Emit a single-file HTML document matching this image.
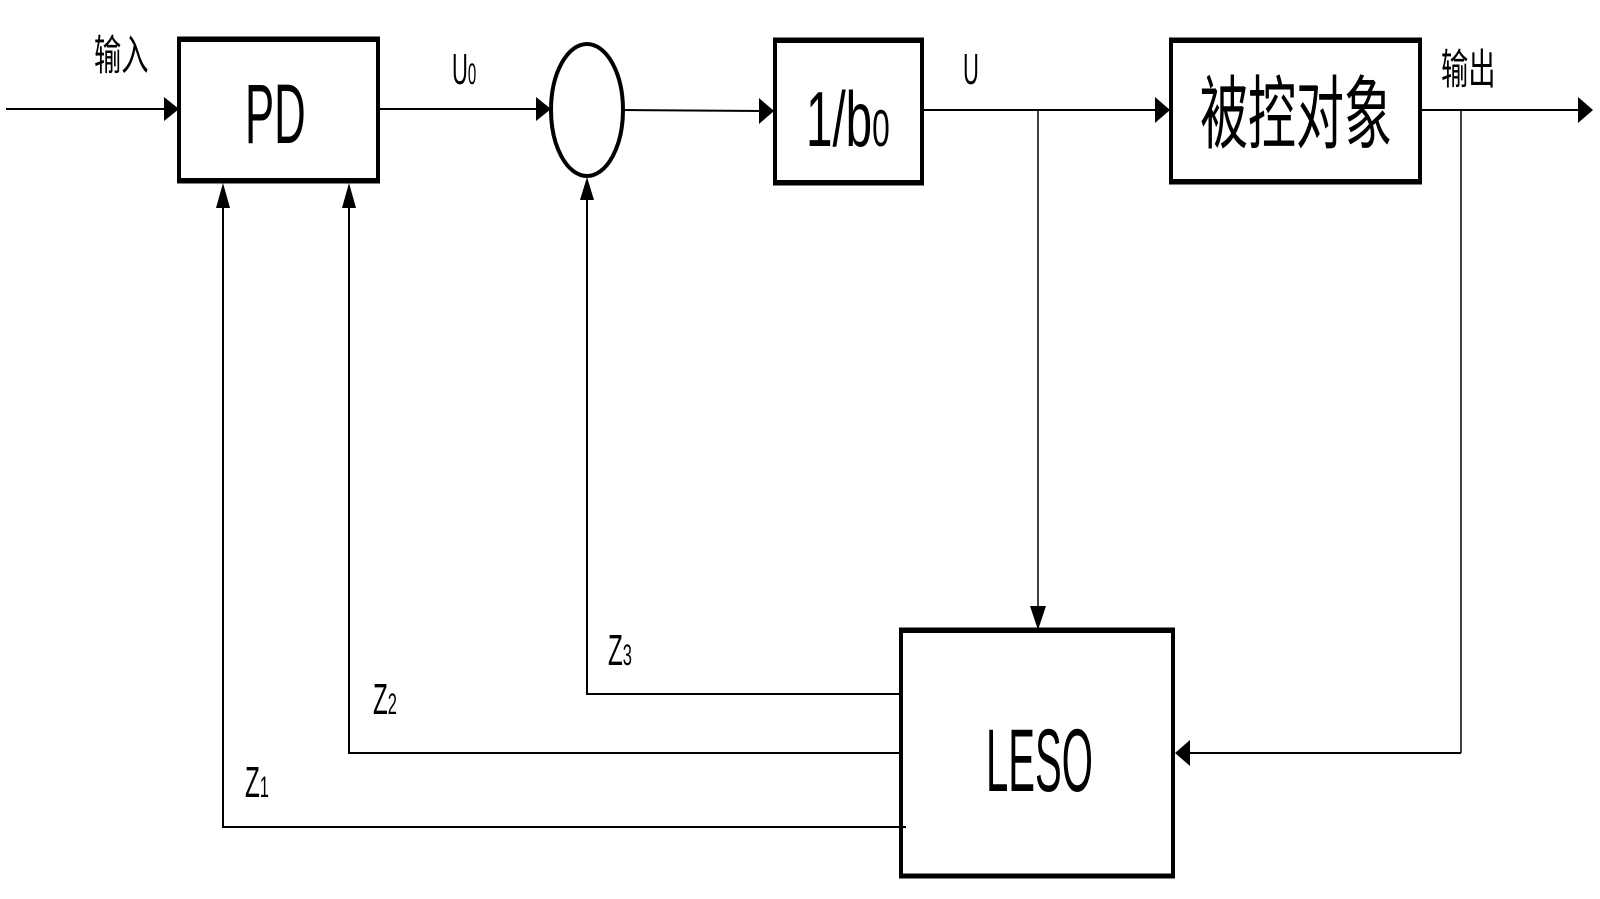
<!DOCTYPE html>
<html><head><meta charset="utf-8"><style>
html,body{margin:0;padding:0;background:#fff;}
svg{display:block;}
text{font-family:"Liberation Sans","Noto Sans CJK SC",sans-serif;fill:#000;}
</style></head><body>
<svg width="1600" height="899" viewBox="0 0 1600 899" xmlns="http://www.w3.org/2000/svg">
<g stroke="#000" fill="none">
<line x1="6" y1="109" x2="166" y2="109" stroke-width="2"/>
<rect x="179" y="40" width="199" height="140" stroke-width="4"/>
<line x1="177" y1="39" x2="380" y2="39" stroke-width="5"/>
<line x1="177" y1="181" x2="380" y2="181" stroke-width="5"/>
<line x1="380" y1="109" x2="540" y2="109" stroke-width="2"/>
<ellipse cx="587" cy="110" rx="36" ry="66" stroke-width="4"/>
<line x1="624" y1="110" x2="762" y2="111" stroke-width="2"/>
<rect x="775" y="41" width="147" height="141" stroke-width="4"/>
<line x1="773" y1="40" x2="924" y2="40" stroke-width="5"/>
<line x1="773" y1="183" x2="924" y2="183" stroke-width="5"/>
<line x1="924" y1="110" x2="1158" y2="110" stroke-width="2"/>
<line x1="1038" y1="110" x2="1038" y2="612" stroke-width="1.5"/>
<rect x="1171" y="41" width="249" height="140" stroke-width="4"/>
<line x1="1169" y1="40" x2="1422" y2="40" stroke-width="5"/>
<line x1="1169" y1="182" x2="1422" y2="182" stroke-width="5"/>
<line x1="1422" y1="110" x2="1580" y2="110" stroke-width="2"/>
<line x1="1461" y1="110" x2="1461" y2="753" stroke-width="1.5"/>
<line x1="1461" y1="753" x2="1188" y2="753" stroke-width="2"/>
<rect x="901" y="631" width="272" height="245" stroke-width="4"/>
<line x1="899" y1="630" x2="1175" y2="630" stroke-width="5"/>
<line x1="899" y1="876" x2="1175" y2="876" stroke-width="5"/>
<polyline points="900,694 587,694 587,192" stroke-width="2"/>
<polyline points="900,753 349,753 349,197" stroke-width="2"/>
<polyline points="906,827 223,827 223,197" stroke-width="2"/>
</g>
<g fill="#000">
<polygon points="164,97 179,109 164,121"/>
<polygon points="536,97 551,109 536,121"/>
<polygon points="759,98 774,111 759,124"/>
<polygon points="1155,97 1170,110 1155,123"/>
<polygon points="1578,97 1593,110 1578,123"/>
<polygon points="1030,606 1038,630 1046,606"/>
<polygon points="1190,740 1175,753 1190,766"/>
<polygon points="580,200 587,177 594,200"/>
<polygon points="342,208 349,183 356,208"/>
<polygon points="216,208 223,183 230,208"/>
</g>
<g>
<text x="94" y="70" font-size="42" transform="translate(94 0) scale(0.65 1) translate(-94 0)">输入</text>
<text x="245" y="143" font-size="84" transform="translate(245 0) scale(0.52 1) translate(-245 0)">PD</text>
<text x="452" y="84" font-size="44" transform="translate(452 0) scale(0.5 1) translate(-452 0)">U<tspan font-size="30">0</tspan></text>
<text x="806" y="146" font-size="78" transform="translate(806 0) scale(0.61 1) translate(-806 0)">1/b<tspan font-size="52">0</tspan></text>
<text x="963" y="84" font-size="44" transform="translate(963 0) scale(0.5 1) translate(-963 0)">U</text>
<text x="1200" y="142" font-size="80" transform="translate(1200 0) scale(0.6 1) translate(-1200 0)">被控对象</text>
<text x="1441" y="84" font-size="42" transform="translate(1441 0) scale(0.65 1) translate(-1441 0)">输出</text>
<text x="986" y="791" font-size="89" transform="translate(986 0) scale(0.45 1) translate(-986 0)">LESO</text>
<text x="608" y="665" font-size="44" transform="translate(608 0) scale(0.55 1) translate(-608 0)">Z<tspan font-size="30">3</tspan></text>
<text x="373" y="714" font-size="44" transform="translate(373 0) scale(0.55 1) translate(-373 0)">Z<tspan font-size="30">2</tspan></text>
<text x="245" y="797" font-size="44" transform="translate(245 0) scale(0.55 1) translate(-245 0)">Z<tspan font-size="30">1</tspan></text>
</g>
</svg>
</body></html>
